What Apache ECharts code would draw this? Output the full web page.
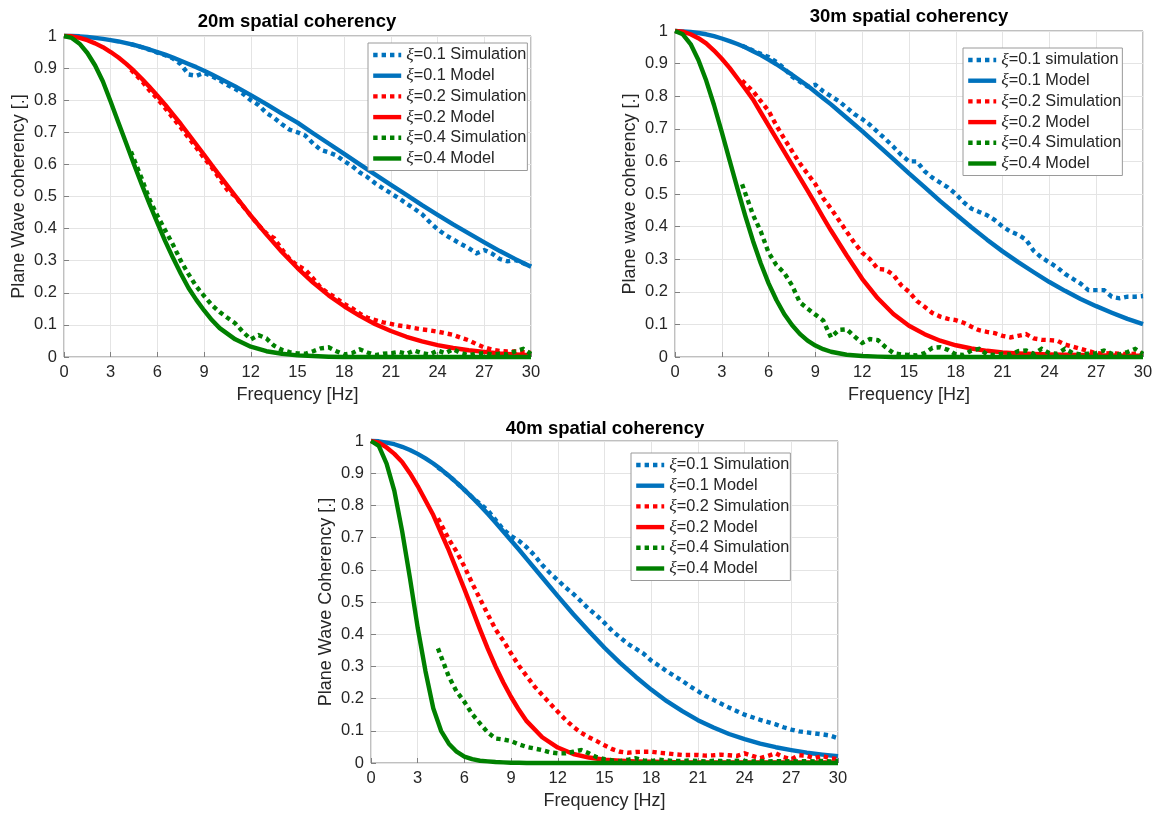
<!DOCTYPE html>
<html>
<head>
<meta charset="utf-8">
<script src="https://cdn.jsdelivr.net/npm/echarts@6/dist/echarts.min.js"></script>
<style>
html,body{margin:0;padding:0;background:#fff;}
#chart{width:1159px;height:816px;}
</style>
</head>
<body>
<div id="chart"></div>
<script>
// ---------- data ----------
const xTicks = [0,3,6,9,12,15,18,21,24,27,30];
const yTicks = [0,0.1,0.2,0.3,0.4,0.5,0.6,0.7,0.8,0.9,1];

const titles = ['20m spatial coherency','30m spatial coherency','40m spatial coherency'];
const yNames = ['Plane Wave coherency [.]','Plane wave coherency [.]','Plane Wave Coherency [.]'];
const xName = 'Frequency [Hz]';

const names1 = ['ξ=0.1 Simulation','ξ=0.1 Model','ξ=0.2 Simulation','ξ=0.2 Model','ξ=0.4 Simulation','ξ=0.4 Model'];
const names2 = ['ξ=0.1 simulation','ξ=0.1 Model','ξ=0.2 Simulation','ξ=0.2 Model','ξ=0.4 Simulation','ξ=0.4 Model'];
const names3 = ['ξ=0.1 Simulation','ξ=0.1 Model','ξ=0.2 Simulation','ξ=0.2 Model','ξ=0.4 Simulation','ξ=0.4 Model'];

// model frequencies: 0..10 step 0.5, then 11..30 step 1
const modelFreq = [0,0.5,1,1.5,2,2.5,3,3.5,4,4.5,5,5.5,6,6.5,7,7.5,8,8.5,9,9.5,10,
  11,12,13,14,15,16,17,18,19,20,21,22,23,24,25,26,27,28,29,30];
// simulation frequencies
const simFreq = [4.3,5,5.5,6,6.5,7,7.5,8,8.5,9,9.5,10,10.5,11,11.5,12,12.5,13,13.5,14,14.5,15,15.5,16,16.5,17,17.5,18,18.5,19,19.5,20,20.5,21,21.5,22,22.5,23,23.5,24,24.5,25,25.5,26,26.5,27,27.5,28,28.5,29,29.5,30];

// ----- 20 m -----
const c1BlueModel = [1,1.0,0.999,0.997,0.994,0.991,0.987,0.983,0.978,0.972,0.965,0.958,0.950,0.942,0.933,0.923,0.913,0.903,0.892,0.880,0.868,
  0.843,0.816,0.788,0.758,0.730,0.697,0.665,0.633,0.600,0.568,0.536,0.505,0.473,0.443,0.413,0.385,0.357,0.330,0.305,0.281];
const c1RedModel = [1,0.999,0.994,0.987,0.977,0.965,0.950,0.933,0.913,0.891,0.867,0.841,0.814,0.786,0.756,0.726,0.694,0.662,0.630,0.597,0.565,
  0.502,0.440,0.382,0.327,0.277,0.232,0.192,0.158,0.128,0.102,0.081,0.063,0.049,0.037,0.028,0.021,0.016,0.011,0.008,0.006];
const c1GreenModel = [1,0.994,0.976,0.947,0.908,0.858,0.795,0.73,0.665,0.6,0.537,0.476,0.418,0.361,0.309,0.26,0.215,0.178,0.145,0.115,0.09,
  0.055,0.032,0.018,0.01,0.005,0.003,0.001,0,0,0,0,0,0,0,0,0,0,0,0,0];
const c1BlueSim = [0.975,0.965,0.957,0.948,0.94,0.93,0.912,0.88,0.876,0.885,0.875,0.862,0.847,0.835,0.82,0.80,0.785,0.76,0.745,0.725,
  0.708,0.70,0.69,0.665,0.645,0.638,0.628,0.61,0.595,0.575,0.56,0.541,0.525,0.51,0.495,0.478,0.462,0.445,0.42,0.398,
  0.38,0.366,0.352,0.339,0.323,0.333,0.322,0.305,0.298,0.302,0.292,0.283];
const c1RedSim = [0.895,0.86,0.83,0.805,0.775,0.745,0.715,0.683,0.652,0.62,0.59,0.555,0.52,0.50,0.47,0.44,0.41,0.385,0.37,0.335,
  0.305,0.285,0.272,0.245,0.215,0.198,0.183,0.165,0.152,0.135,0.122,0.115,0.108,0.103,0.098,0.095,0.09,0.086,0.083,0.079,
  0.074,0.069,0.06,0.052,0.04,0.03,0.023,0.019,0.017,0.017,0.015,0.013];
const c1GreenSim = [0.64,0.555,0.49,0.44,0.395,0.35,0.30,0.258,0.22,0.19,0.162,0.14,0.122,0.105,0.078,0.055,0.068,0.058,0.035,0.022,
  0.015,0.011,0.01,0.018,0.027,0.03,0.018,0.008,0.012,0.024,0.014,0.006,0.01,0.012,0.016,0.01,0.02,0.012,0.008,0.02,
  0.012,0.024,0.012,0.006,0.01,0.012,0.008,0.01,0.008,0.018,0.025,0.01];

// ----- 30 m -----
const c2BlueModel = [1,0.999,0.997,0.994,0.990,0.984,0.977,0.969,0.960,0.950,0.938,0.926,0.912,0.898,0.882,0.866,0.849,0.832,0.813,0.794,0.775,
  0.734,0.693,0.650,0.607,0.563,0.521,0.478,0.438,0.398,0.360,0.324,0.291,0.260,0.230,0.203,0.178,0.156,0.136,0.117,0.101];
const c2RedModel = [1,0.998,0.99,0.978,0.962,0.94,0.915,0.887,0.855,0.823,0.79,0.75,0.71,0.67,0.63,0.59,0.55,0.51,0.47,0.428,0.388,
  0.312,0.24,0.18,0.132,0.096,0.07,0.05,0.036,0.026,0.019,0.014,0.011,0.009,0.008,0.007,0.006,0.005,0.005,0.004,0.004];
const c2GreenModel = [1,0.99,0.96,0.911,0.848,0.773,0.69,0.603,0.517,0.434,0.356,0.287,0.226,0.175,0.132,0.098,0.071,0.05,0.035,0.024,0.016,
  0.007,0.003,0.001,0,0,0,0,0,0,0,0,0,0,0,0,0,0,0,0,0];
const c2BlueSim = [0.955,0.94,0.93,0.92,0.905,0.885,0.86,0.845,0.83,0.835,0.815,0.80,0.785,0.765,0.745,0.73,0.712,0.69,0.668,0.645,
  0.62,0.60,0.60,0.57,0.55,0.535,0.52,0.50,0.475,0.455,0.445,0.435,0.42,0.40,0.385,0.375,0.36,0.325,0.305,0.29,
  0.275,0.255,0.24,0.225,0.205,0.205,0.205,0.185,0.18,0.185,0.185,0.187];
const c2RedSim = [0.848,0.815,0.785,0.755,0.71,0.67,0.632,0.594,0.562,0.53,0.487,0.455,0.42,0.385,0.35,0.32,0.30,0.27,0.268,0.252,
  0.22,0.20,0.172,0.154,0.135,0.124,0.117,0.113,0.105,0.093,0.082,0.077,0.073,0.065,0.06,0.065,0.07,0.057,0.053,0.052,
  0.05,0.038,0.032,0.025,0.018,0.012,0.01,0.012,0.01,0.009,0.01,0.01];
const c2GreenSim = [0.53,0.436,0.385,0.32,0.282,0.258,0.22,0.168,0.148,0.13,0.112,0.06,0.083,0.085,0.063,0.043,0.055,0.052,0.03,0.012,
  0.008,0.006,0.005,0.012,0.028,0.03,0.022,0.008,0.006,0.02,0.025,0.008,0.006,0.01,0.008,0.018,0.02,0.01,0.025,0.012,
  0.01,0.025,0.012,0.008,0.01,0.012,0.02,0.01,0.008,0.015,0.025,0.01];

// ----- 40 m -----
const c3BlueModel = [1,0.999,0.995,0.99,0.982,0.972,0.96,0.946,0.93,0.912,0.892,0.871,0.848,0.825,0.80,0.774,0.747,0.719,0.691,0.663,0.634,
  0.576,0.518,0.462,0.409,0.358,0.311,0.268,0.228,0.192,0.161,0.133,0.11,0.09,0.074,0.06,0.049,0.04,0.032,0.026,0.021];
const c3RedModel = [1,0.995,0.98,0.96,0.935,0.9,0.86,0.815,0.77,0.715,0.66,0.6,0.54,0.478,0.415,0.355,0.30,0.25,0.205,0.165,0.13,
  0.08,0.048,0.028,0.017,0.01,0.007,0.005,0.004,0.003,0.002,0.002,0.002,0.002,0.002,0.002,0.002,0.002,0.002,0.002,0.002];
const c3GreenModel = [1,0.985,0.93,0.845,0.72,0.575,0.42,0.285,0.17,0.1,0.06,0.035,0.02,0.012,0.007,0.005,0.003,0.002,0.001,0.001,0,
  0,0,0,0,0,0,0,0,0,0,0,0,0,0,0,0,0,0,0,0];
const c3BlueSim = [0.918,0.892,0.871,0.848,0.825,0.805,0.785,0.755,0.725,0.705,0.69,0.67,0.645,0.615,0.59,0.568,0.545,0.525,0.502,0.478,
  0.458,0.435,0.41,0.39,0.37,0.355,0.34,0.318,0.302,0.285,0.27,0.255,0.238,0.223,0.208,0.196,0.184,0.172,0.161,0.15,
  0.142,0.134,0.127,0.12,0.111,0.104,0.098,0.095,0.092,0.089,0.085,0.077];
const c3RedSim = [0.76,0.695,0.656,0.61,0.558,0.51,0.462,0.415,0.38,0.34,0.302,0.27,0.238,0.211,0.185,0.159,0.134,0.112,0.094,0.08,
  0.068,0.055,0.043,0.035,0.032,0.034,0.035,0.035,0.032,0.03,0.027,0.025,0.025,0.025,0.023,0.024,0.026,0.024,0.022,0.03,
  0.022,0.015,0.022,0.03,0.018,0.012,0.024,0.022,0.015,0.022,0.015,0.012];
const c3GreenSim = [0.356,0.268,0.222,0.19,0.152,0.123,0.095,0.076,0.073,0.068,0.058,0.05,0.045,0.04,0.033,0.03,0.03,0.035,0.04,0.03,
  0.018,0.012,0.008,0.006,0.01,0.015,0.008,0.006,0.01,0.008,0.006,0.006,0.008,0.006,0.005,0.007,0.006,0.005,0.007,0.006,
  0.005,0.006,0.005,0.006,0.005,0.006,0.005,0.006,0.005,0.006,0.005,0.006];

// ---------- layout / style ----------
const FONT = '"Liberation Sans", Helvetica, Arial, sans-serif';
const COLORS = ['#0072BD', '#FF0000', '#008000'];
const LW = 4.4;
const grids = [
  {left: 64, top: 36, width: 467, height: 321},
  {left: 675, top: 31, width: 468, height: 326},
  {left: 371, top: 441, width: 467, height: 322}
];
const titlePos = [[297, 22], [909, 17], [605, 429]];
const legendPos = [[368, 43], [963, 48], [631, 453]];

const allNames = [names1, names2, names3];
const sims = [[c1BlueSim, c1RedSim, c1GreenSim],[c2BlueSim, c2RedSim, c2GreenSim],[c3BlueSim, c3RedSim, c3GreenSim]];
const models = [[c1BlueModel, c1RedModel, c1GreenModel],[c2BlueModel, c2RedModel, c2GreenModel],[c3BlueModel, c3RedModel, c3GreenModel]];

const xAxes = [], yAxes = [], series = [], legends = [], graphics = [];
for (let g = 0; g < 3; g++) {
  xAxes.push({
    type: 'value', gridIndex: g, min: 0, max: 30, interval: 3,
    name: xName, nameLocation: 'middle', nameGap: 29,
    nameTextStyle: {fontFamily: FONT, fontSize: 18, color: '#262626'},
    axisLine: {show: false},
    axisTick: {show: true, inside: true, length: 5, lineStyle: {color: '#808080'}},
    axisLabel: {fontFamily: FONT, fontSize: 16.5, color: '#262626', margin: 7,
      formatter: v => String(Math.round(v))},
    splitLine: {show: true, lineStyle: {color: '#e4e4e4', width: 1}}
  });
  yAxes.push({
    type: 'value', gridIndex: g, min: 0, max: 1, interval: 0.1,
    name: yNames[g], nameLocation: 'middle', nameGap: 36,
    nameTextStyle: {fontFamily: FONT, fontSize: 18, color: '#262626'},
    axisLine: {show: false},
    axisTick: {show: true, inside: true, length: 5, lineStyle: {color: '#808080'}},
    axisLabel: {fontFamily: FONT, fontSize: 16.5, color: '#262626', margin: 7,
      formatter: v => String(Math.round(v * 10) / 10)},
    splitLine: {show: true, lineStyle: {color: '#e4e4e4', width: 1}}
  });
  for (let k = 0; k < 3; k++) {
    series.push({
      type: 'line', name: allNames[g][2 * k], xAxisIndex: g, yAxisIndex: g,
      data: simFreq.map((f, i) => [f, sims[g][k][i]]),
      showSymbol: false, symbol: 'none', clip: false, animation: false,
      color: COLORS[k],
      lineStyle: {color: COLORS[k], width: LW, type: [4.4, 4], cap: 'butt', join: 'miter'}
    });
    series.push({
      type: 'line', name: allNames[g][2 * k + 1], xAxisIndex: g, yAxisIndex: g,
      data: modelFreq.map((f, i) => [f, models[g][k][i]]),
      showSymbol: false, symbol: 'none', clip: false, animation: false,
      smooth: false,
      color: COLORS[k],
      lineStyle: {color: COLORS[k], width: LW, type: 'solid', join: 'round'}
    });
  }
  legends.push({
    data: allNames[g], orient: 'vertical', left: legendPos[g][0], top: legendPos[g][1],
    selectedMode: false, backgroundColor: '#ffffff', borderColor: '#9a9a9a', borderWidth: 1,
    padding: [3, 1, 3, 3], itemGap: 2.7, itemWidth: 28, itemHeight: 14,
    lineStyle: {width: LW},
    itemStyle: {opacity: 0, color: 'transparent', borderWidth: 0},
    textStyle: {fontFamily: FONT, fontSize: 16.3, color: '#262626', lineHeight: 18,
      rich: {i: {fontFamily: '"Liberation Serif", "DejaVu Serif", serif', fontStyle: 'italic', fontSize: 17.5, color: '#262626'}}},
    formatter: name => '{i|ξ}' + name.slice(1)
  });
  graphics.push({
    type: 'text', x: titlePos[g][0], y: titlePos[g][1], silent: true,
    style: {text: titles[g], align: 'center', verticalAlign: 'middle',
      font: 'bold 18.5px ' + FONT, fill: '#000000'}
  });
}

const chart = echarts.init(document.getElementById('chart'), null, {renderer: 'canvas'});
chart.setOption({
  backgroundColor: '#ffffff',
  animation: false,
  grid: grids.map(r => Object.assign({show: true, borderColor: '#808080', borderWidth: 1, backgroundColor: 'transparent', containLabel: false}, r)),
  xAxis: xAxes,
  yAxis: yAxes,
  legend: legends,
  series: series,
  graphic: graphics
});
</script>
</body>
</html>
